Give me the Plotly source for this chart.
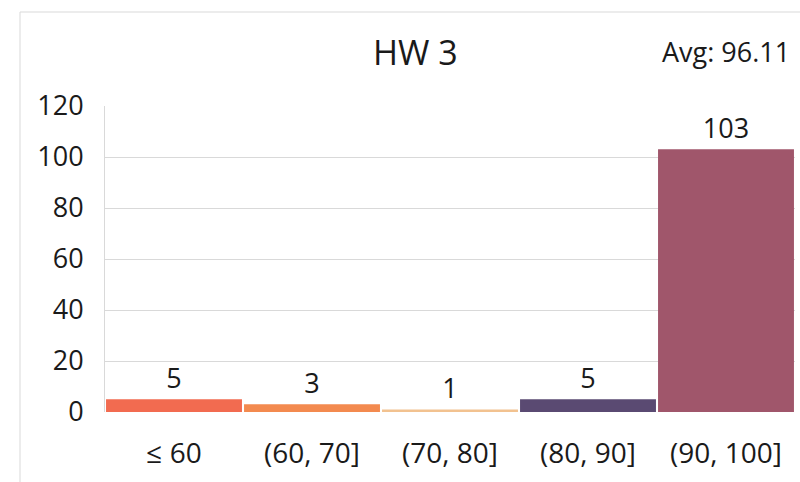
import plotly.graph_objects as go

categories = ["≤ 60", "(60, 70]", "(70, 80]", "(80, 90]", "(90, 100]"]
counts = [5, 3, 1, 5, 103]
bar_colors = ["#F26B50", "#F38A4F", "#F2C290", "#5A4A72", "#A0566B"]
title_text = "HW 3"
avg_text = "Avg: 96.11"
y_ticks = [0, 20, 40, 60, 80, 100, 120]

W, H = 800, 482
L, R, T, B = 105, 5, 106, 70
pw, ph = W - L - R, H - T - B

def px_x(x):
    return (x - L) / pw

def px_y(y):
    return (H - B - y) / ph

FONT = "Open Sans, Liberation Sans, sans-serif"
TXT = "#1a1a1a"

fig = go.Figure(go.Bar(
    x=categories, y=counts,
    marker=dict(color=bar_colors, line=dict(width=0)),
    text=[str(c) for c in counts], textposition="outside",
    textfont=dict(family=FONT, size=27, color=TXT),
    cliponaxis=False,
))

fig.update_layout(
    width=W, height=H,
    margin=dict(l=L, r=R, t=T, b=B),
    paper_bgcolor="white", plot_bgcolor="white",
    bargap=0.015,
    showlegend=False,
    font=dict(family=FONT, color=TXT),
    xaxis=dict(showgrid=False, showline=False, ticks="", tickfont=dict(size=28, color=TXT),
               ticklabelstandoff=22),
    yaxis=dict(range=[0, 120], tickvals=y_ticks, showgrid=True, gridcolor="#D9D9D9",
               gridwidth=1, zeroline=False, showline=True, linecolor="#D9D9D9",
               tickfont=dict(size=27, color=TXT), ticklabelstandoff=15),
    annotations=[
        dict(text=title_text, x=px_x(415), y=px_y(52), xref="paper", yref="paper",
             showarrow=False, font=dict(size=34, color=TXT), xanchor="center", yanchor="middle"),
        dict(text=avg_text, x=px_x(726), y=px_y(52), xref="paper", yref="paper",
             showarrow=False, font=dict(size=27, color=TXT), xanchor="center", yanchor="middle"),
    ],
    shapes=[
        dict(type="line", xref="paper", yref="paper", x0=px_x(20), x1=px_x(20),
             y0=px_y(12), y1=px_y(H + 5), line=dict(color="#D9D9D9", width=1)),
        dict(type="line", xref="paper", yref="paper", x0=px_x(20), x1=px_x(W + 5),
             y0=px_y(12), y1=px_y(12), line=dict(color="#D9D9D9", width=1)),
    ],
)

fig.write_html("out.html", config={"displayModeBar": False},
               post_script="document.body.style.margin='0';")
